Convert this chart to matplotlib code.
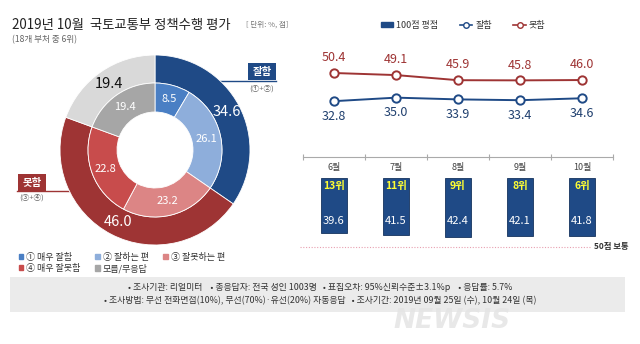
import matplotlib
matplotlib.use("Agg")
import matplotlib.pyplot as plt
import matplotlib.patches as mpatches
from matplotlib.lines import Line2D
import numpy as np

plt.rcParams['font.family'] = ['Noto Sans CJK KR', 'DejaVu Sans']

# data
months = ['6월', '7월', '8월', '9월', '10월']
good = [32.8, 35.0, 33.9, 33.4, 34.6]
bad = [50.4, 49.1, 45.9, 45.8, 46.0]
score = [39.6, 41.5, 42.4, 42.1, 41.8]
ranks = ['13위', '11위', '9위', '8위', '6위']

outer_vals = [34.6, 46.0, 19.4]
inner_vals = [8.5, 26.1, 23.2, 22.8, 19.4]
inner_labels = ['① 매우 잘함', '④ 매우 잘못함', '② 잘하는 편', '모름/무응답', '③ 잘못하는 편']

BLUE = '#1f4a86'
RED = '#9e3434'
outer_colors = [BLUE, RED, '#d9d9d9']
inner_colors = ['#4a7fc4', '#8eaedb', '#dc8585', '#c84c4c', '#a6a6a6']

W, H = 640, 344
fig = plt.figure(figsize=(6.4, 3.44), dpi=100)

def box(x0, y0, x1, y1):
    # pixel box (top-left origin) -> figure fraction
    return [x0 / W, 1 - y1 / H, (x1 - x0) / W, (y1 - y0) / H]

# background overlay in pixel coords
bg = fig.add_axes([0, 0, 1, 1])
bg.set_xlim(0, W)
bg.set_ylim(H, 0)
bg.axis('off')

bg.text(12, 25, '2019년 10월  국토교통부 정책수행 평가', fontsize=9.6, color='#222222',
        va='center', ha='left', fontweight='medium')
bg.text(246, 25, '[ 단위: %, 점]', fontsize=5.5, color='#777777', va='center')
bg.text(12, 40, '(18개 부처 중 6위)', fontsize=6.2, color='#666666', va='center')

# note box
bg.add_patch(mpatches.Rectangle((10, 277), 615, 35, facecolor='#ebebeb', edgecolor='none'))
bg.text(320, 288, '• 조사기관: 리얼미터    • 총응답자: 전국 성인 1003명   • 표집오차: 95%신뢰수준±3.1%p    • 응답률: 5.7%',
        fontsize=6.4, ha='center', va='center', color='#333333')
bg.text(320, 301, '• 조사방법: 무선 전화면접(10%), 무선(70%)·유선(20%) 자동응답   • 조사기간: 2019년 09월 25일 (수), 10월 24일 (목)',
        fontsize=6.4, ha='center', va='center', color='#333333')
bg.text(452, 321, 'NEWSIS', fontsize=19, fontweight='bold', style='italic', color='#e4e4e4',
        ha='center', va='center', family='DejaVu Sans', alpha=0.85)

# donut callouts
bg.plot([218, 276], [81, 81], color=BLUE, lw=1)
bg.add_patch(mpatches.Rectangle((248, 63), 28, 17, facecolor=BLUE, edgecolor='none'))
bg.text(262, 71.5, '잘함', color='white', fontsize=7.5, ha='center', va='center', fontweight='bold')
bg.text(262, 89, '(①+②)', color='#666666', fontsize=5.5, ha='center', va='center')
bg.plot([17, 70], [191, 191], color=RED, lw=1)
bg.add_patch(mpatches.Rectangle((18, 174), 28, 17, facecolor=RED, edgecolor='none'))
bg.text(32, 182.5, '못함', color='white', fontsize=7.5, ha='center', va='center', fontweight='bold')
bg.text(32, 198, '(③+④)', color='#666666', fontsize=5.5, ha='center', va='center')

# donut
ax_d = fig.add_axes(box(60, 55, 250, 245))
ax_d.set_aspect('equal')
w_out, t_out = ax_d.pie(outer_vals, radius=1.0, startangle=90, counterclock=False,
                        colors=outer_colors,
                        wedgeprops=dict(width=0.295, edgecolor='white', linewidth=0.6))
w_in, t_in = ax_d.pie(inner_vals, radius=0.705, startangle=90, counterclock=False,
                      colors=inner_colors,
                      wedgeprops=dict(width=0.305, edgecolor='white', linewidth=0.6))
ax_d.set_xlim(-1, 1)
ax_d.set_ylim(-1, 1)

def label_ring(wedges, vals, r, colors, size):
    for w, v, c in zip(wedges, vals, colors):
        ang = np.deg2rad((w.theta1 + w.theta2) / 2)
        ax_d.text(r * np.cos(ang), r * np.sin(ang), f'{v:.1f}', color=c,
                  fontsize=size, ha='center', va='center', fontweight='medium')

label_ring(w_out, outer_vals, 0.85, ['white', 'white', '#111111'], 10.5)
label_ring(w_in, inner_vals, 0.555, ['white'] * 5, 8)

# donut legend
leg_handles = [mpatches.Patch(color=c) for c in inner_colors]
order = [0, 3, 1, 4, 2]
fig.legend([leg_handles[i] for i in order], inner_labels,
           loc='upper left', bbox_to_anchor=(14 / W, 1 - 248 / H), ncol=3, frameon=False,
           fontsize=6.5, handlelength=0.55, handleheight=0.55, handletextpad=0.3,
           columnspacing=1.6, labelspacing=0.25, borderpad=0, labelcolor='#333333')

# line chart
x = np.arange(len(months))
ax_l = fig.add_axes(box(303, 55, 613, 115))
ax_l.set_xlim(-0.5, 4.5)
ax_l.set_ylim(24.15, 61.65)
ax_l.plot(x, bad, color=RED, lw=1.4, marker='o', ms=6, mfc='white', mew=1.4)
ax_l.plot(x, good, color=BLUE, lw=1.4, marker='o', ms=6, mfc='white', mew=1.4)
for xi, b, g in zip(x, bad, good):
    ax_l.annotate(f'{b:.1f}', (xi, b), xytext=(0, 11), textcoords='offset points',
                  ha='center', va='center', color=RED, fontsize=9)
    ax_l.annotate(f'{g:.1f}', (xi, g), xytext=(0, -11), textcoords='offset points',
                  ha='center', va='center', color='#1f3f6e', fontsize=9)
ax_l.axis('off')

# right legend
fig.legend([mpatches.Patch(color=BLUE),
            Line2D([], [], color=BLUE, marker='o', mfc='white', ms=4, lw=1.2),
            Line2D([], [], color=RED, marker='o', mfc='white', ms=4, lw=1.2)],
           ['100점 평점', '잘함', '못함'], loc='center', bbox_to_anchor=(463 / W, 1 - 25 / H),
           ncol=3, frameon=False, fontsize=6.5, handlelength=1.4, handleheight=0.5,
           handletextpad=0.3, columnspacing=2.4, labelcolor='#333333')

# bar chart (hanging bars, 0 at top)
px_per = 1.37
top_val = -21 / px_per
ax_b = fig.add_axes(box(303, 157, 613, 250))
ax_b.set_xlim(-0.5, 4.5)
ax_b.set_ylim(50 + 3 / px_per, top_val)
ax_b.bar(x, score, width=0.42, color=BLUE, edgecolor='#15335e', linewidth=0.6)
for xi, s, r, m in zip(x, score, ranks, months):
    ax_b.text(xi, 6, r, color='#ffff33', fontsize=7.5, fontweight='bold', ha='center', va='center')
    ax_b.text(xi, 31, f'{s:.1f}', color='white', fontsize=8, ha='center', va='center')
    ax_b.text(xi, top_val + 10 / px_per, m, color='#444444', fontsize=6.5, ha='center', va='center')
ax_b.hlines(50, -0.55, 4.13, colors='#e8a0b0', linestyles=(0, (1, 1.5)), lw=0.8, clip_on=False)
ax_b.text(4.2, 50, '50점 보통', fontsize=6, fontweight='bold', color='#333333', va='center',
          ha='left', clip_on=False)
for s in ['left', 'right', 'bottom']:
    ax_b.spines[s].set_visible(False)
ax_b.spines['top'].set_color('#aaaaaa')
ax_b.spines['top'].set_linewidth(0.8)
ax_b.set_xticks(np.arange(-0.5, 5, 1))
ax_b.xaxis.tick_top()
ax_b.tick_params(axis='x', direction='inout', length=4, color='#aaaaaa', labeltop=False)
ax_b.set_yticks([])

fig.savefig('out.png', dpi=100)
